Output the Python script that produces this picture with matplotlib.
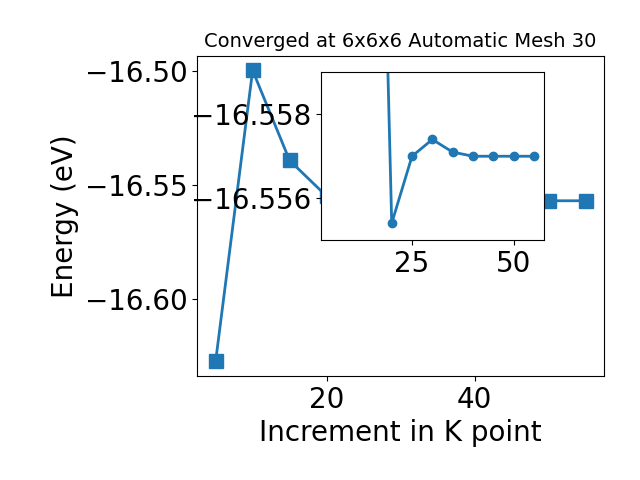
import matplotlib
matplotlib.use('Agg')
import matplotlib.pyplot as plt

# K point increments and total energies (eV)
kpoints = [5, 10, 15, 20, 25, 30, 35, 40, 45, 50, 55]
energy = [-16.6276, -16.4997, -16.5393, -16.5550, -16.5570, -16.5566,
          -16.5569, -16.5570, -16.5570, -16.5570, -16.5570]

# inset series (starts at 15)
inset_k = [15, 20, 25, 30, 35, 40, 45, 50, 55]
inset_energy = [-16.5393, -16.5586, -16.5570, -16.5566, -16.5569,
                -16.5570, -16.5570, -16.5570, -16.5570]

main_xticks = [20, 40]
main_yticks = [-16.60, -16.55, -16.50]
inset_xticks = [25, 50]
inset_yticks = [-16.558, -16.556]
inset_yticklabels = ['\u221216.556', '\u221216.558']


def main():
    fig = plt.figure(figsize=(6.4, 4.8), dpi=100)
    ax = fig.add_axes([0.308, 0.2167, 0.636, 0.667])
    ax.plot(kpoints, energy, marker='s', markersize=10, linewidth=2, color='#1f77b4')
    ax.set_xticks(main_xticks)
    ax.set_yticks(main_yticks)
    ax.tick_params(labelsize=20)
    ax.set_xlabel('Increment in K point', fontsize=20)
    ax.set_ylabel('Energy (eV)', fontsize=20)
    ax.set_title('Converged at 6x6x6 Automatic Mesh 30', fontsize=14)

    # zoomed view of the converged region
    axins = fig.add_axes([0.501, 0.5, 0.349, 0.349])
    axins.plot(inset_k, inset_energy, marker='o', markersize=6, linewidth=2, color='#1f77b4')
    axins.set_xlim(2.5, 57.5)
    axins.set_ylim(-16.559, -16.555)
    axins.set_xticks(inset_xticks)
    axins.set_yticks(inset_yticks)
    axins.set_yticklabels(inset_yticklabels)
    axins.tick_params(labelsize=20)

    fig.savefig('out.png', dpi=100)


if __name__ == '__main__':
    main()
